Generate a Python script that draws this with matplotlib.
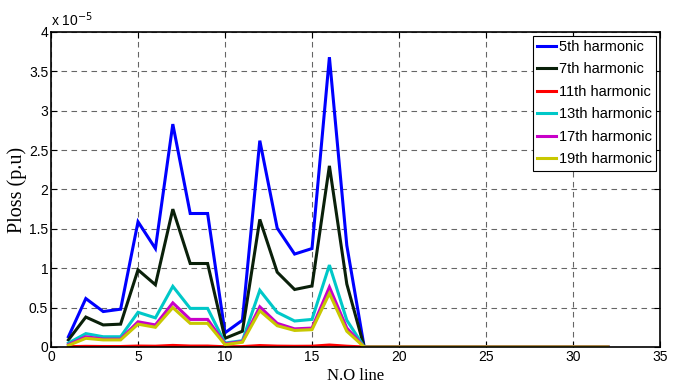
import matplotlib

matplotlib.use("Agg")
import matplotlib.pyplot as plt
from matplotlib.ticker import MultipleLocator, FormatStrFormatter

# line index (N.O line) and loss values in units of 1e-5 p.u.
lines = list(range(1, 33))
zeros_tail = [0.0] * 14  # lines 19..32

h5 = [0.13, 0.615, 0.45, 0.48, 1.59, 1.25, 2.83, 1.695, 1.695, 0.18, 0.34,
      2.62, 1.51, 1.18, 1.25, 3.68, 1.29, 0.0] + zeros_tail
h7 = [0.09, 0.38, 0.28, 0.29, 0.98, 0.79, 1.75, 1.06, 1.06, 0.11, 0.20,
      1.62, 0.95, 0.73, 0.775, 2.30, 0.80, 0.0] + zeros_tail
h11 = [0.004, 0.008, 0.006, 0.006, 0.012, 0.010, 0.020, 0.012, 0.012, 0.003,
       0.005, 0.018, 0.011, 0.009, 0.010, 0.025, 0.010, 0.0] + zeros_tail
h13 = [0.05, 0.17, 0.13, 0.13, 0.44, 0.37, 0.77, 0.49, 0.49, 0.05, 0.08,
       0.72, 0.44, 0.33, 0.35, 1.04, 0.34, 0.0] + zeros_tail
h17 = [0.03, 0.13, 0.10, 0.10, 0.32, 0.28, 0.56, 0.35, 0.35, 0.04, 0.07,
       0.51, 0.30, 0.23, 0.24, 0.76, 0.24, 0.0] + zeros_tail
h19 = [0.02, 0.11, 0.09, 0.09, 0.29, 0.25, 0.50, 0.30, 0.30, 0.03, 0.06,
       0.46, 0.27, 0.21, 0.22, 0.68, 0.20, 0.0] + zeros_tail

series = [
    ("5th harmonic", h5, "#0000ff"),
    ("7th harmonic", h7, "#0a200a"),
    ("11th harmonic", h11, "#ff0000"),
    ("13th harmonic", h13, "#00c8c8"),
    ("17th harmonic", h17, "#c800c8"),
    ("19th harmonic", h19, "#c8c800"),
]

plt.rcParams["font.family"] = ["Liberation Sans", "DejaVu Sans"]

fig = plt.figure(figsize=(6.83, 3.90), dpi=100)
ax = fig.add_axes([0.0747, 0.1103, 0.8916, 0.8077])

for label, vals, color in series:
    ax.plot(lines, vals, color=color, linewidth=2.2, label=label,
            solid_joinstyle="miter")

ax.set_xlim(0, 35)
ax.set_ylim(0, 4)
ax.xaxis.set_major_locator(MultipleLocator(5))
ax.yaxis.set_major_locator(MultipleLocator(0.5))
ax.yaxis.set_major_formatter(FormatStrFormatter("%g"))
ax.tick_params(direction="in", length=4, labelsize=10, pad=2,
               top=True, right=True)
ax.grid(True, color="black", linestyle=(0, (5, 4)), linewidth=0.8, alpha=0.6)
for sp in ax.spines.values():
    sp.set_linewidth(1.2)

ax.text(0.0, 1.01, "x 10$^{-5}$", transform=ax.transAxes, fontsize=10,
        ha="left", va="bottom")

ax.set_xlabel("N.O line", family="Liberation Serif", fontsize=12, labelpad=3)
ax.set_ylabel("Ploss (p.u)", family="Liberation Serif", fontsize=14.5,
              labelpad=1)

leg = ax.legend(loc="upper right", fontsize=10.5, handlelength=1.3,
                handletextpad=0.2, labelspacing=0.58, borderpad=0.3,
                fancybox=False, framealpha=1, edgecolor="black",
                borderaxespad=0.25)
leg.get_frame().set_linewidth(0.8)

fig.savefig("out.png", dpi=100)
